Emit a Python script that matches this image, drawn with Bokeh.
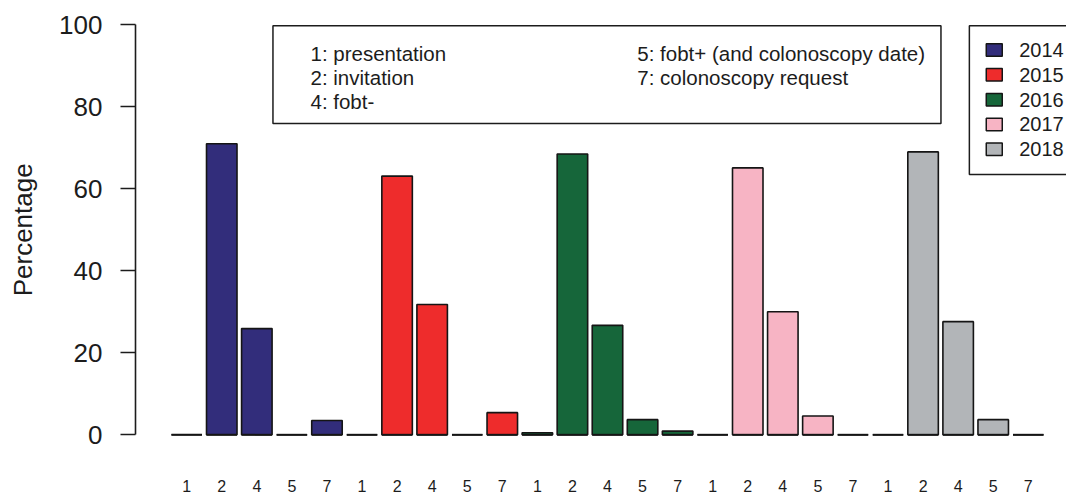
import math
from bokeh.plotting import figure
from bokeh.layouts import row
from bokeh.models import Range1d, FixedTicker, ColumnDataSource
from bokeh.core.properties import value
from bokeh.embed import file_html
from bokeh.resources import INLINE

# ---- data ----
years = ["2014", "2015", "2016", "2017", "2018"]
steps = ["1", "2", "4", "5", "7"]
pct_2014 = [0.0, 71.0, 25.9, 0.0, 3.5]
pct_2015 = [0.0, 63.1, 31.8, 0.0, 5.4]
pct_2016 = [0.5, 68.5, 26.7, 3.7, 0.9]
pct_2017 = [0.0, 65.1, 30.0, 4.6, 0.0]
pct_2018 = [0.0, 69.0, 27.6, 3.7, 0.0]
colors = ["#322d7b", "#ee2c2c", "#16663a", "#f7b4c4", "#b2b5b8"]
y_ticks = [0, 20, 40, 60, 80, 100]
y_title = "Percentage"
notes_left = ["1: presentation", "2: invitation", "4: fobt-"]
notes_right = ["5: fobt+ (and colonoscopy date)", "7: colonoscopy request"]

series = [pct_2014, pct_2015, pct_2016, pct_2017, pct_2018]

FONT = value("Liberation Sans")
INK = "#1c1c1c"
BAR_W = 0.87
W_TITLE = 40
W_MAIN = 1066 - W_TITLE
H = 494

xs, tops, fills, labels = [], [], [], []
for g, vals in enumerate(series):
    for k, v in enumerate(vals):
        xs.append(g * len(steps) + k + 1)
        tops.append(v)
        fills.append(colors[g])
        labels.append(steps[k])

src = ColumnDataSource(dict(
    x=xs, top=tops, color=fills, step=labels,
    x0=[x - BAR_W / 2 for x in xs], x1=[x + BAR_W / 2 for x in xs],
    zero=[0.0] * len(xs),
))

yr = Range1d(-14.56, 105.93)

p = figure(width=W_MAIN, height=H,
           x_range=Range1d(-0.46, 26.09), y_range=yr,
           x_axis_type=None, output_backend="svg", toolbar_location=None,
           min_border_left=135 - W_TITLE, min_border_right=0,
           min_border_top=0, min_border_bottom=0)
p.outline_line_color = None
p.ygrid.visible = False

ax = p.yaxis[0]
ax.bounds = (0, 100)
ax.ticker = FixedTicker(ticks=y_ticks)
ax.major_tick_out = 15
ax.major_tick_in = 0
ax.minor_tick_out = 0
ax.minor_tick_in = 0
ax.major_label_standoff = 18
ax.major_label_text_font = "Liberation Sans"
ax.major_label_text_font_size = "26px"
ax.major_label_text_color = INK
ax.axis_line_width = 1.6
ax.axis_line_color = INK
ax.major_tick_line_width = 1.6
ax.major_tick_line_color = INK

# bars
p.vbar(x="x", top="top", bottom=0, width=BAR_W, fill_color="color",
       line_color="#151515", line_width=1.6, source=src)
p.segment(x0="x0", x1="x1", y0="zero", y1="zero", line_color="#151515",
          line_width=2, source=src)

# category labels under bars
p.text(x="x", y=-12.4, text="step", source=src, text_font=FONT,
       text_font_size="16px", text_color=INK, text_align="center",
       text_baseline="middle")

# notes box
p.quad(left=3.46, right=22.51, top=99.8, bottom=75.9, fill_color=None,
       line_color=INK, line_width=1.5)
line_y = [93.1, 87.15, 81.2]
p.text(x=[4.53] * len(notes_left), y=line_y[:len(notes_left)], text=notes_left,
       text_font=FONT, text_font_size="20.5px", text_color=INK,
       text_align="left", text_baseline="middle")
p.text(x=[13.85] * len(notes_right), y=line_y[:len(notes_right)], text=notes_right,
       text_font=FONT, text_font_size="20.5px", text_color=INK,
       text_align="left", text_baseline="middle")

# year legend (box runs past the right edge like the reference)
p.quad(left=23.32, right=27.5, top=99.8, bottom=63.5, fill_color=None,
       line_color=INK, line_width=1.5)
leg_y = [93.85 - 6.05 * i for i in range(len(years))]
p.rect(x=[24.03] * len(years), y=leg_y, width=16, height=12.5,
       width_units="screen", height_units="screen", fill_color=colors,
       line_color="#151515", line_width=1.5)
p.text(x=[24.74] * len(years), y=leg_y, text=years, text_font=FONT,
       text_font_size="20px", text_color=INK, text_align="left",
       text_baseline="middle")

# y axis title in a narrow strip sharing the y scale
t = figure(width=W_TITLE, height=H, x_range=Range1d(0, W_TITLE), y_range=yr,
           x_axis_type=None, y_axis_type=None, output_backend="svg",
           toolbar_location=None, min_border=0)
t.outline_line_color = None
t.grid.visible = False
t.text(x=[22.5], y=[50], text=[y_title], angle=math.pi / 2, text_font=FONT,
       text_font_size="26px", text_color=INK, text_align="center",
       text_baseline="middle")

layout = row(t, p, spacing=0)
open("out.html", "w").write(file_html(layout, INLINE))
